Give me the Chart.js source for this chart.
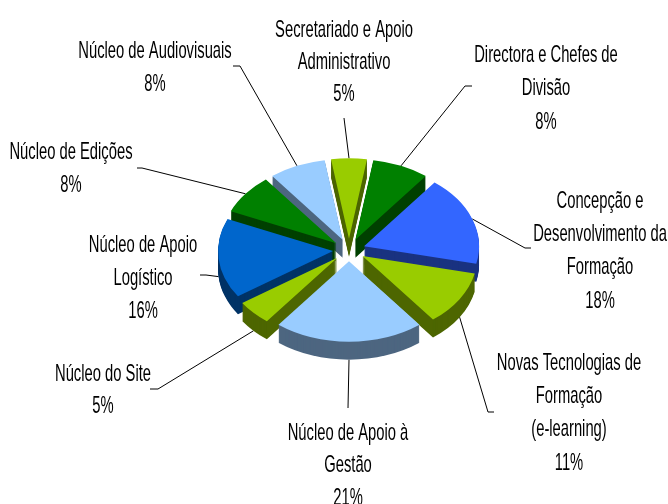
<!DOCTYPE html>
<html>
<head>
<meta charset="utf-8">
<style>
    html, body { margin: 0; padding: 0; background: #fff; }
    #wrap { width: 668px; height: 504px; }
</style>
<script src="https://cdn.jsdelivr.net/npm/chart.js@4"></script>
</head>
<body>
<div id="wrap"><canvas id="pieChart" width="668" height="504"></canvas></div>
<script>
let categories = [
    "Secretariado e Apoio Administrativo",
    "Directora e Chefes de Divisão",
    "Concepção e Desenvolvimento da Formação",
    "Novas Tecnologias de Formação (e-learning)",
    "Núcleo de Apoio à Gestão",
    "Núcleo do Site",
    "Núcleo de Apoio Logístico",
    "Núcleo de Edições",
    "Núcleo de Audiovisuais"
];
let percentages = [5, 8, 18, 11, 21, 5, 16, 8, 8];

let labelLines = [
    ["Secretariado e Apoio", "Administrativo"],
    ["Directora e Chefes de", "Divisão"],
    ["Concepção e", "Desenvolvimento da", "Formação"],
    ["Novas Tecnologias de", "Formação", "(e-learning)"],
    ["Núcleo de Apoio à", "Gestão"],
    ["Núcleo do Site"],
    ["Núcleo de Apoio", "Logístico"],
    ["Núcleo de Edições"],
    ["Núcleo de Audiovisuais"]
];

let topColors = ["#99CC00", "#008000", "#3366FF", "#99CC00", "#99CCFF", "#99CC00", "#0066CC", "#008000", "#99CCFF"];
let sideColors = ["#4D6600", "#004000", "#1A3380", "#4D6600", "#4D6680", "#4D6600", "#003366", "#004000", "#4D6680"];

// where each label block sits, and the elbow of its leader line
let labelBoxes = [
    { x: 344, y: 30, gap: 32, line: [[344, 118]] },
    { x: 546, y: 55, gap: 33.5, line: [[472, 86], [465, 86]] },
    { x: 600, y: 201, gap: 33.3, line: [[531, 248], [525, 248]] },
    { x: 569, y: 363, gap: 33.3, line: [[494, 412], [488, 412]] },
    { x: 348, y: 433, gap: 32.5, line: [[348, 408]] },
    { x: 103, y: 374, gap: 32, line: [[150, 389], [158, 389]] },
    { x: 143, y: 245, gap: 33, line: [[200, 275], [206, 275]] },
    { x: 71, y: 152, gap: 33, line: [[137, 168], [142, 168]] },
    { x: 155, y: 51, gap: 33, line: [[233, 66], [240, 66]] }
];

const squash = 0.7;
const depth = 18;
const explode = 16;

function applySquash(ctx, arc, drop) {
    ctx.translate(arc.x, arc.y + drop);
    ctx.scale(1, squash);
    ctx.translate(-arc.x, -arc.y);
}

function midAngle(arc) {
    return (arc.startAngle + arc.endAngle) / 2;
}

function drawSide(ctx, arc, color) {
    let mid = midAngle(arc);
    let cx = arc.x + Math.cos(mid) * explode;
    let cy = arc.y + Math.sin(mid) * explode;

    ctx.fillStyle = color;
    for(let d = depth; d > 0; d--) {
        ctx.save();
        applySquash(ctx, arc, d);
        ctx.beginPath();
        ctx.moveTo(cx, cy);
        ctx.arc(cx, cy, arc.outerRadius, arc.startAngle, arc.endAngle);
        ctx.closePath();
        ctx.fill();
        ctx.restore();
    }
}

function drawLeader(ctx, arc, box) {
    let mid = midAngle(arc);
    let r = arc.outerRadius + explode;
    let ex = arc.x + Math.cos(mid) * r;
    let ey = arc.y + Math.sin(mid) * r * squash;
    // front slices: the line ends on the lower rim
    if(Math.sin(mid) > 0) {
        ey += depth;
    }

    ctx.strokeStyle = "#000";
    ctx.lineWidth = 1;
    ctx.beginPath();
    box.line.forEach(function(p, i) {
        if(i == 0) ctx.moveTo(p[0], p[1]);
        else ctx.lineTo(p[0], p[1]);
    });
    ctx.lineTo(ex, ey);
    ctx.stroke();
}

function drawLabel(ctx, lines, percent, box) {
    let all = lines.concat([percent + "%"]);
    ctx.fillStyle = "#000";
    ctx.font = "24px 'Liberation Sans'";
    ctx.textAlign = "center";
    ctx.textBaseline = "middle";
    for(let i = 0; i < all.length; i++) {
        ctx.save();
        ctx.translate(box.x, box.y + i * box.gap);
        ctx.scale(0.615, 1);
        ctx.fillText(all[i], 0, 0);
        ctx.restore();
    }
}

const pie3d = {
    id: "pie3d",
    beforeDatasetDraw: function(chart, args) {
        let ctx = chart.ctx;
        let arcs = args.meta.data;

        arcs.forEach(function(arc, i) {
            drawLeader(ctx, arc, labelBoxes[i]);
        });

        // sides go back to front, tops go last
        let order = arcs.map(function(arc, i) { return i; });
        order.sort(function(a, b) {
            return Math.sin(midAngle(arcs[a])) - Math.sin(midAngle(arcs[b]));
        });
        order.forEach(function(i) {
            drawSide(ctx, arcs[i], sideColors[i]);
        });

        arcs.forEach(function(arc) {
            let mid = midAngle(arc);
            ctx.save();
            applySquash(ctx, arc, 0);
            ctx.translate(Math.cos(mid) * explode, Math.sin(mid) * explode);
            arc.draw(ctx);
            ctx.restore();
        });

        return false;
    },
    afterDraw: function(chart) {
        for(let i = 0; i < labelLines.length; i++) {
            drawLabel(chart.ctx, labelLines[i], percentages[i], labelBoxes[i]);
        }
    }
};

new Chart(document.getElementById("pieChart"), {
    type: "pie",
    data: {
        labels: categories,
        datasets: [{
            data: percentages,
            backgroundColor: topColors,
            borderWidth: 0,
            clip: false
        }]
    },
    options: {
        responsive: false,
        animation: false,
        rotation: -9,
        radius: 115,
        layout: { padding: { left: 30, bottom: 4 } },
        events: [],
        plugins: {
            legend: { display: false },
            tooltip: { enabled: false },
            title: { display: false }
        }
    },
    plugins: [pie3d]
});
</script>
</body>
</html>
